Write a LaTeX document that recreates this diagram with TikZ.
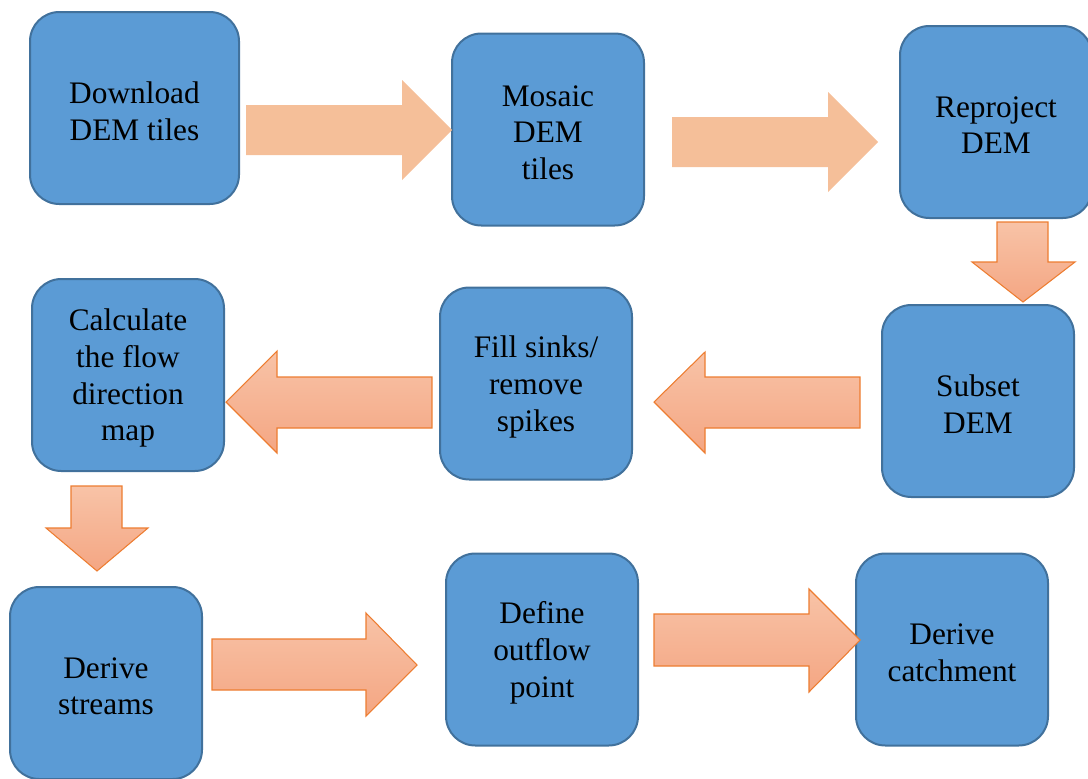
\documentclass[tikz,border=0pt]{standalone}
\usepackage{fontspec}
\setmainfont{Liberation Serif}
\definecolor{boxfill}{HTML}{5B9BD5}
\definecolor{boxline}{HTML}{41719C}
\definecolor{flatarrow}{HTML}{F5BF99}
\definecolor{arrowtop}{HTML}{F8C3A7}
\definecolor{arrowbot}{HTML}{F4A683}
\definecolor{arrowline}{HTML}{ED7D31}
\begin{document}
\begin{tikzpicture}[x=0.75pt,y=-0.75pt,
  stepbox/.style={draw=boxline,fill=boxfill,line width=1.5pt,rounded corners=22pt,
    minimum width=144pt,minimum height=144pt,inner sep=0pt},
  steptext/.style={align=center,inner sep=2pt,yshift=-2.4pt,
    font=\fontsize{23.5}{27.6}\selectfont},
  flatblock/.style={fill=flatarrow,draw=none},
  shadedblock/.style={draw=arrowline,line width=0.8pt,line join=miter,
    top color=arrowtop,bottom color=arrowbot}]
\useasboundingbox (0,0) rectangle (1088,778);

% process steps
\node[stepbox,minimum width=156.75pt,
  label={[steptext]center:Download\\DEM tiles}] (dl) at (134.5,108) {};
\node[stepbox,label={[steptext]center:Mosaic\\DEM\\tiles}] (mo) at (548,129.5) {};
\node[stepbox,label={[steptext]center:Reproject\\DEM}] (rp) at (996,122) {};
\node[stepbox,label={[steptext]center:Subset\\DEM}] (sb) at (978,401) {};
\node[stepbox,label={[steptext]center:Fill sinks/\\remove\\spikes}] (fs) at (536,383.5) {};
\node[stepbox,label={[steptext]center:Calculate\\the flow\\direction\\map}] (cf) at (128,375) {};
\node[stepbox,label={[steptext]center:Derive\\streams}] (ds) at (106,683) {};
\node[stepbox,label={[steptext]center:Define\\outflow\\point}] (op) at (542,649.5) {};
\node[stepbox,label={[steptext]center:Derive\\catchment}] (dc) at (952,649.5) {};

% block arrows between the steps
\path[flatblock] (246,105) -- (402,105) -- (402,80) -- (452,130) -- (402,180)
  -- (402,155) -- (246,155) -- cycle;
\path[flatblock] (672,117) -- (828,117) -- (828,92) -- (878,142) -- (828,192)
  -- (828,167) -- (672,167) -- cycle;
\path[shadedblock] (997,222) -- (1048,222) -- (1048,262) -- (1075,262)
  -- (1023,302) -- (972,262) -- (997,262) -- cycle;
\path[shadedblock] (860,377) -- (705,377) -- (705,352) -- (654,402) -- (705,453)
  -- (705,428) -- (860,428) -- cycle;
\path[shadedblock] (432,377) -- (277,377) -- (277,351) -- (226,402) -- (277,453)
  -- (277,428) -- (432,428) -- cycle;
\path[shadedblock] (71,486) -- (122,486) -- (122,528) -- (148,528) -- (97,571)
  -- (46,528) -- (71,528) -- cycle;
\path[shadedblock] (212,639) -- (366,639) -- (366,613) -- (417,665) -- (366,716)
  -- (366,690) -- (212,690) -- cycle;
\path[shadedblock] (654,614) -- (809,614) -- (809,589) -- (860,640) -- (809,692)
  -- (809,666) -- (654,666) -- cycle;
\end{tikzpicture}
\end{document}
